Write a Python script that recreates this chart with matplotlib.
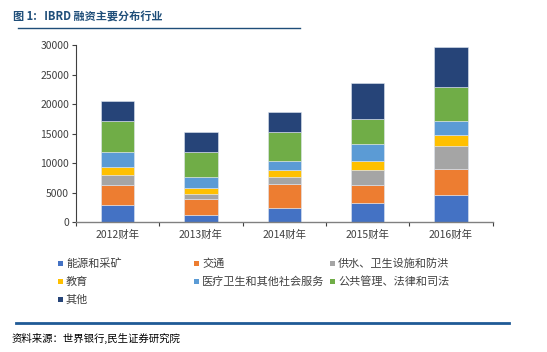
import matplotlib
matplotlib.use("Agg")
import matplotlib.pyplot as plt
from matplotlib.patches import Rectangle
from matplotlib.lines import Line2D
import numpy as np

plt.rcParams['font.family'] = ['Noto Sans CJK SC', 'DejaVu Sans']

years = ["2012财年", "2013财年", "2014财年", "2015财年", "2016财年"]
series_names = ["能源和采矿", "交通", "供水、卫生设施和防洪", "教育",
                "医疗卫生和其他社会服务", "公共管理、法律和司法", "其他"]
energy   = [2830, 1240, 2320, 3170, 4530]
transport = [3400, 2610, 4080, 3060, 4420]
water    = [1750, 850, 1190, 2600, 4000]
education = [1360, 1020, 1240, 1530, 1770]
health   = [2490, 1870, 1530, 2940, 2380]
public   = [5320, 4350, 4870, 4250, 5820]
other    = [3390, 3290, 3390, 5990, 6780]
series = [energy, transport, water, education, health, public, other]
colors = ["#4472C4", "#ED7D31", "#A5A5A5", "#FFC000", "#5B9BD5", "#70AD47", "#264478"]
yticks = [0, 5000, 10000, 15000, 20000, 25000, 30000]

fig = plt.figure(figsize=(5.47, 3.52), dpi=100)
ax = fig.add_axes([76/547, 1-222/352, (492.5-76)/547, (222-45.3)/352])

x = np.arange(len(years))
bottom = np.zeros(len(years))
for vals, c in zip(series, colors):
    ax.bar(x, vals, width=0.4, bottom=bottom, color=c, edgecolor="#dfe6f0", linewidth=0.4)
    bottom += np.array(vals)

ax.set_xlim(-0.5, len(years)-0.5)
ax.set_ylim(0, 30000)
ax.set_yticks(yticks)
ax.set_yticklabels([str(v) for v in yticks], fontsize=7.5, color="#404040")
ax.set_xticks(x)
ax.set_xticklabels(years, fontsize=7.5, color="#404040")
ax.tick_params(axis='x', length=0, pad=6)
ax.set_xticks(np.arange(-0.5, len(years), 1.0), minor=True)
ax.tick_params(axis='x', which='minor', length=3, color="#404040", width=0.8)
ax.tick_params(axis='y', length=3, color="#404040", width=0.8, pad=2)
for s in ["top", "right"]:
    ax.spines[s].set_visible(False)
ax.spines["left"].set_color("#404040")
ax.spines["left"].set_linewidth(0.8)
ax.spines["bottom"].set_color("#808080")
ax.spines["bottom"].set_linewidth(1.0)

# legend (row-wise, 3 columns)
col_x = [58, 194, 330]
row_y = [263.5, 281.5, 299.5]
for i, (name, c) in enumerate(zip(series_names, colors)):
    r, cidx = divmod(i, 3)
    px, py = col_x[cidx], row_y[r]
    fig.add_artist(Rectangle((px/547, 1-(py+2.5)/352), 5/547, 5/352,
                             transform=fig.transFigure, color=c, lw=0))
    fig.text((px+8)/547, 1-py/352, name, fontsize=8, color="#404040",
             va="center", ha="left")

# title
fig.text(13/547, 1-17/352, "图 1:   IBRD 融资主要分布行业", fontsize=8,
         color="#1F4E79", fontweight="bold", va="center", ha="left")
fig.add_artist(Line2D([18/547, 300/547], [1-27.7/352, 1-27.7/352],
                      transform=fig.transFigure, color="#1F4E79", lw=1.0))
# bottom rule and source
fig.add_artist(Line2D([16/547, 509/547], [1-322.5/352, 1-322.5/352],
                      transform=fig.transFigure, color="#1F5A96", lw=2.0))
fig.text(12/547, 1-338/352, "资料来源：世界银行,民生证券研究院", fontsize=7.5,
         color="#000000", va="center", ha="left")

fig.savefig("out.png", dpi=100)
